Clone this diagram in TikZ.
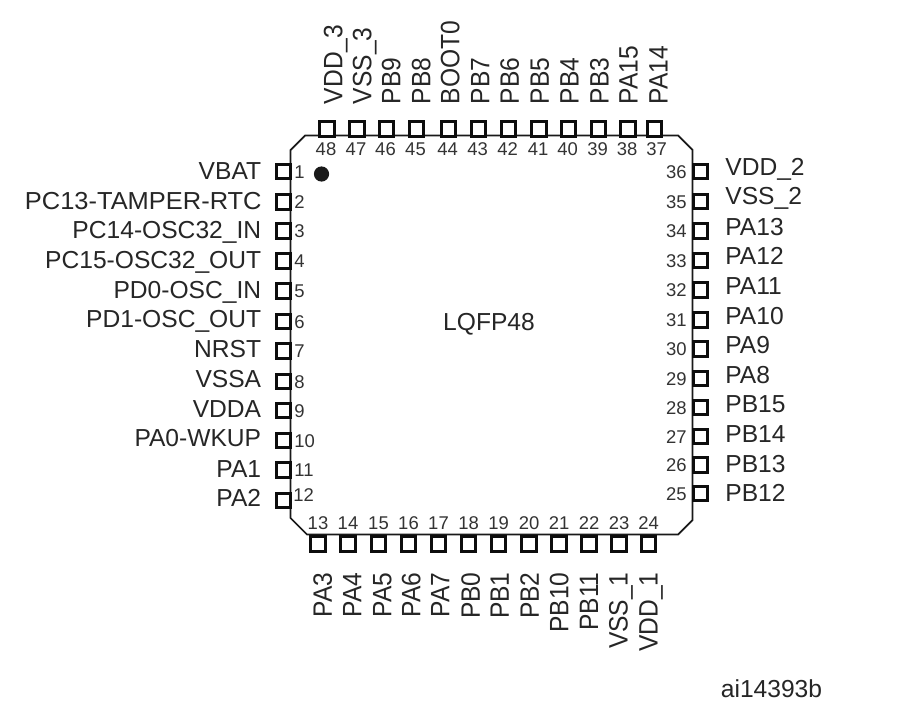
\documentclass[tikz,border=0pt]{standalone}
\usepackage{fontspec}
\setmainfont{Liberation Sans}
\tikzset{
	padbox/.style={draw=black!95, line width=1.5pt, fill=white, minimum size=8.2pt, inner sep=0pt},
	pinnum/.style={inner sep=0pt, text=black!80, font=\fontsize{10.5}{12}\selectfont, text height=7.6pt, text depth=0pt},
	pinlabel/.style={inner sep=0pt, text=black!85, font=\fontsize{14}{16}\selectfont, text height=10pt, text depth=0pt},
	uplabel/.style={pinlabel, rotate=90, yscale=1.08, transform shape},
}
\def\pinleft(#1)(#2)(#3)(#4){\node[padbox] (pad#2) at (283.5, #1) {}; \node[pinnum, anchor=west] (num#2) at (294, #1) {#2}; \node[pinlabel, anchor=east] (lab#2) at (261.5, #4) {#3};}
\def\pinright(#1)(#2)(#3)(#4){\node[padbox] (pad#2) at (700.5, #1) {}; \node[pinnum, anchor=east] (num#2) at (687, #1) {#2}; \node[pinlabel, anchor=west] (lab#2) at (725, #4) {#3};}
\def\pintop(#1)(#2)(#3)(#4){\node[padbox] (pad#3) at (#1, 129) {}; \node[pinnum] (num#3) at (#1-1, 149) {#3}; \node[uplabel, anchor=west] (lab#3) at (#2, 104.5) {#4};}
\def\pinbottom(#1)(#2)(#3)(#4){\node[padbox] (pad#3) at (#1, 544) {}; \node[pinnum] (num#3) at (#1, 523) {#3}; \node[uplabel, anchor=east] (lab#3) at (#2, 572) {#4};}

\begin{document}
\begin{tikzpicture}[x=0.02cm, y=-0.02cm]
	%%%%% START %%%%%
	\useasboundingbox (0, 0) rectangle (901, 706);
	\fill[white] (0, 0) rectangle (901, 706);

	\draw[line width=1pt, color=black!90] (290.5, 150) -- (305, 135.5) -- (678, 135.5) -- (692.5, 150) -- (692.5, 520) -- (678, 534.5) -- (307, 534.5) -- (290.5, 518) -- cycle;
	\fill[black!90] (321.5, 174) circle (7.6);

	\pinleft(171.5)(1)(VBAT)(171)
	\node[padbox] (pad2) at (283.5, 202) {};
	\node[pinnum, anchor=west] (num2) at (294, 202) {2};
	\node[pinlabel, anchor=east, xscale=1.035, transform shape] (lab2) at (262, 200.5) {PC13-TAMPER-RTC};
	\pinleft(231)(3)(PC14-OSC32\_IN)(230)
	\pinleft(261)(4)(PC15-OSC32\_OUT)(259.5)
	\pinleft(291)(5)(PD0-OSC\_IN)(290)
	\pinleft(321.5)(6)(PD1-OSC\_OUT)(318.5)
	\pinleft(351)(7)(NRST)(349)
	\pinleft(381.5)(8)(VSSA)(378.5)
	\pinleft(410.5)(9)(VDDA)(409)
	\pinleft(440.5)(10)(PA0-WKUP)(438)
	\pinleft(470)(11)(PA1)(468.5)
	\node[padbox] (pad12) at (283.5, 500.5) {};
	\node[pinnum, anchor=west] (num12) at (293, 495) {12};
	\node[pinlabel, anchor=east] (lab12) at (261.5, 497.5) {PA2};

	\pinbottom(318)(322.5)(13)(PA3)
	\pinbottom(348)(352)(14)(PA4)
	\pinbottom(378.5)(382)(15)(PA5)
	\pinbottom(408.5)(411)(16)(PA6)
	\pinbottom(438.5)(440)(17)(PA7)
	\pinbottom(468.5)(470.5)(18)(PB0)
	\pinbottom(498.5)(499.5)(19)(PB1)
	\pinbottom(529)(529.5)(20)(PB2)
	\pinbottom(559)(559)(21)(PB10)
	\pinbottom(589)(588.5)(22)(PB11)
	\pinbottom(619)(618)(23)(VSS\_1)
	\pinbottom(648.5)(648)(24)(VDD\_1)

	\pinright(493.5)(25)(PB12)(493)
	\pinright(465)(26)(PB13)(464)
	\pinright(436.5)(27)(PB14)(434)
	\pinright(407.5)(28)(PB15)(404)
	\pinright(378.5)(29)(PA8)(375)
	\pinright(349)(30)(PA9)(345)
	\pinright(320)(31)(PA10)(315.5)
	\pinright(290)(32)(PA11)(286)
	\pinright(260.5)(33)(PA12)(256)
	\pinright(231)(34)(PA13)(227)
	\pinright(201.5)(35)(VSS\_2)(196)
	\pinright(171.5)(36)(VDD\_2)(167)

	\node[padbox] (pad37) at (654.5, 129) {};
	\node[pinnum] (num37) at (656.5, 149) {37};
	\node[uplabel, anchor=west] (lab37) at (658, 104.5) {PA14};
	\pintop(628)(628)(38)(PA15)
	\pintop(598.5)(599)(39)(PB3)
	\pintop(568.5)(569)(40)(PB4)
	\pintop(539)(539.5)(41)(PB5)
	\pintop(508.5)(509.5)(42)(PB6)
	\pintop(478.5)(480)(43)(PB7)
	\pintop(448.5)(450)(44)(BOOT0)
	\pintop(416.5)(421)(45)(PB8)
	\pintop(386.5)(391)(46)(PB9)
	\pintop(357)(362)(47)(VSS\_3)
	\pintop(327)(333)(48)(VDD\_3)

	\node[pinlabel] (pkgname) at (489, 322) {LQFP48};
	\node[pinlabel, anchor=west] (refcode) at (720.5, 689) {ai14393b};
	%%%%% END %%%%%
\end{tikzpicture}
\end{document}
